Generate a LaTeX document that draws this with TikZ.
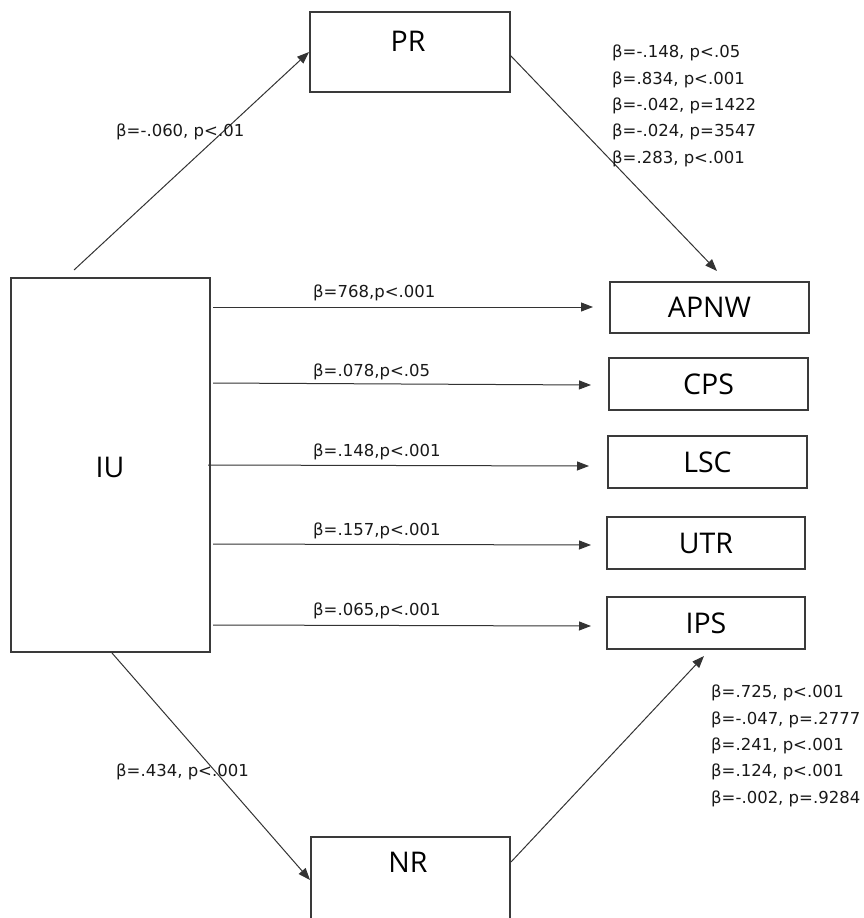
\documentclass[tikz,border=0pt]{standalone}
\usepackage{fontspec}
\usetikzlibrary{arrows.meta}
\newfontfamily\labfont{DejaVu Sans}
\newfontfamily\boxfont{Open Sans}
\definecolor{linec}{HTML}{333333}
\definecolor{boxc}{HTML}{3A3A3A}
\tikzset{
  x=1pt, y=-1pt,
  boxnode/.style={draw=boxc, line width=1.2pt, fill=white, inner sep=0pt},
  boxtext/.style={font=\boxfont\fontsize{28.5}{32}\selectfont, text=black, inner sep=0pt},
  labtext/.style={font=\labfont\fontsize{16.5}{26.3}\selectfont, text=black!90, inner sep=0pt, anchor=west, align=left},
  conn/.style={draw=linec, line width=1pt, -{Triangle[length=12pt,width=9pt]}},
}
\begin{document}
\begin{tikzpicture}
\useasboundingbox (0,0) rectangle (864,918);
% boxes
\node[boxnode, minimum width=200pt, minimum height=80pt] (PR) at (410,52) {};
\node[boxtext] (PRt) at (408,41) {PR};
\node[boxnode, minimum width=199pt, minimum height=374pt] (IU) at (110.5,465) {};
\node[boxtext] (IUt) at (110,467) {IU};
\node[boxnode, minimum width=199pt, minimum height=51pt] (APNW) at (709.5,307.5) {};
\node[boxtext] at (APNW) {APNW};
\node[boxnode, minimum width=199pt, minimum height=52pt] (CPS) at (708.5,384) {};
\node[boxtext] at (CPS) {CPS};
\node[boxnode, minimum width=199pt, minimum height=52pt] (LSC) at (707.5,462) {};
\node[boxtext] at (LSC) {LSC};
\node[boxnode, minimum width=198pt, minimum height=52pt] (UTR) at (706,543) {};
\node[boxtext] at (UTR) {UTR};
\node[boxnode, minimum width=198pt, minimum height=52pt] (IPS) at (706,623) {};
\node[boxtext] at (IPS) {IPS};
\node[boxnode, minimum width=199pt, minimum height=90pt] (NR) at (410.5,882) {};
\node[boxtext] (NRt) at (408,862) {NR};
% connector end points
\coordinate (a1) at (74,270);   \coordinate (a2) at (309,52);
\coordinate (b1) at (510,55);   \coordinate (b2) at (717,271);
\coordinate (c1) at (112,653);  \coordinate (c2) at (310,880);
\coordinate (d1) at (511,862);  \coordinate (d2) at (704,656);
\coordinate (h1s) at (213,307); \coordinate (h1e) at (593,307);
\coordinate (h2s) at (213,383); \coordinate (h2e) at (591,385);
\coordinate (h3s) at (208,465); \coordinate (h3e) at (589,466);
\coordinate (h4s) at (213,544); \coordinate (h4e) at (591,545);
\coordinate (h5s) at (213,625); \coordinate (h5e) at (591,626);
% connectors
\draw[conn] (a1) -- (a2);
\draw[conn] (b1) -- (b2);
\draw[conn] (c1) -- (c2);
\draw[conn] (d1) -- (d2);
\draw[conn] (h1s) -- (h1e);
\draw[conn] (h2s) -- (h2e);
\draw[conn] (h3s) -- (h3e);
\draw[conn] (h4s) -- (h4e);
\draw[conn] (h5s) -- (h5e);
% labels
\node[labtext] (l1) at (313,293) {β=768,p<.001};
\node[labtext] (l2) at (313,372) {β=.078,p<.05};
\node[labtext] (l3) at (313,452) {β=.148,p<.001};
\node[labtext] (l4) at (313,531) {β=.157,p<.001};
\node[labtext] (l5) at (313,611) {β=.065,p<.001};
\node[labtext] (l6) at (116,132) {β=-.060, p<.01};
\node[labtext] (l7) at (116,772) {β=.434, p<.001};
\node[labtext, anchor=north west] (l8) at (612,45) {β=-.148, p<.05\\β=.834, p<.001\\β=-.042, p=1422\\β=-.024, p=3547\\β=.283, p<.001};
\node[labtext, anchor=north west] (l9) at (711,685) {β=.725, p<.001\\β=-.047, p=.2777\\β=.241, p<.001\\β=.124, p<.001\\β=-.002, p=.9284};
\end{tikzpicture}
\end{document}
